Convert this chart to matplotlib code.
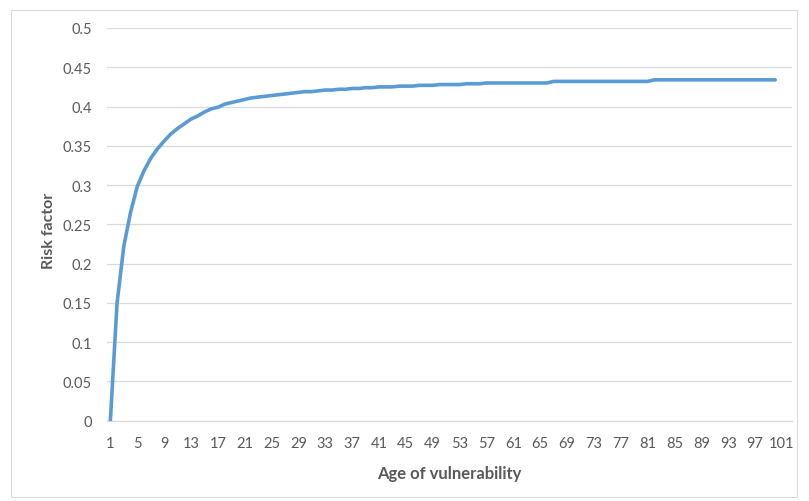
import matplotlib
matplotlib.use("Agg")
import matplotlib.pyplot as plt
from matplotlib.patches import Rectangle

# ---- data ----
ages = list(range(1, 101))
risk = [
    0.000, 0.150, 0.222, 0.265, 0.298, 0.318, 0.334, 0.346, 0.356, 0.365,
    0.372, 0.378, 0.384, 0.388, 0.393, 0.397, 0.399, 0.403, 0.405, 0.407,
    0.409, 0.411, 0.412, 0.413, 0.414, 0.415, 0.416, 0.417, 0.418, 0.419,
    0.419, 0.420, 0.421, 0.421, 0.422, 0.422, 0.423, 0.423, 0.424, 0.424,
    0.425, 0.425, 0.425, 0.426, 0.426, 0.426, 0.427, 0.427, 0.427, 0.428,
    0.428, 0.428, 0.428, 0.429, 0.429, 0.429, 0.430, 0.430, 0.430, 0.430,
    0.430, 0.430, 0.430, 0.430, 0.430, 0.430, 0.432, 0.432, 0.432, 0.432,
    0.432, 0.432, 0.432, 0.432, 0.432, 0.432, 0.432, 0.432, 0.432, 0.432,
    0.432, 0.434, 0.434, 0.434, 0.434, 0.434, 0.434, 0.434, 0.434, 0.434,
    0.434, 0.434, 0.434, 0.434, 0.434, 0.434, 0.434, 0.434, 0.434, 0.434,
]
x_ticks = list(range(1, 102, 4))
y_ticks = [0, 0.05, 0.1, 0.15, 0.2, 0.25, 0.3, 0.35, 0.4, 0.45, 0.5]
y_labels = ["0", "0.05", "0.1", "0.15", "0.2", "0.25", "0.3", "0.35", "0.4", "0.45", "0.5"]
x_title = "Age of vulnerability"
y_title = "Risk factor"

plt.rcParams['font.family'] = ['Lato', 'DejaVu Sans']

W, H = 809, 502
fig = plt.figure(figsize=(W / 100, H / 100), dpi=100)
fig.patch.set_facecolor("white")

# chart-area border
fig.patches.append(Rectangle((10.5 / W, 1 - 497.5 / H), 786.5 / W, 487 / H,
                             transform=fig.transFigure, fill=False,
                             edgecolor="#d9d9d9", linewidth=0.75))

left, right = 107 / W, 792 / W
top, bottom = 29 / H, 421.7 / H
ax = fig.add_axes([left, 1 - bottom, right - left, bottom - top])

ax.plot(ages, risk, color="#5B9BD5", linewidth=2.6, solid_capstyle="round",
        solid_joinstyle="round", zorder=3)

ax.set_xlim(0.5, 102.5)
ax.set_ylim(0, 0.5)
ax.set_yticks(y_ticks)
ax.set_yticklabels(y_labels)
ax.set_xticks(x_ticks)
ax.set_xticklabels([str(t) for t in x_ticks])

ax.grid(axis="y", color="#d9d9d9", linewidth=0.9, zorder=0)
ax.set_axisbelow(True)
for s in ["top", "right", "left"]:
    ax.spines[s].set_visible(False)
ax.spines["bottom"].set_color("#d9d9d9")
ax.spines["bottom"].set_linewidth(0.9)

ax.tick_params(axis="both", length=0, colors="#595959", labelsize=10.5)
ax.tick_params(axis="y", pad=11)
ax.tick_params(axis="x", pad=11)

ax.set_xlabel(x_title, fontsize=12, fontweight="bold", color="#595959", labelpad=11)
ax.set_ylabel(y_title, fontsize=11.5, fontweight="bold", color="#595959")
ax.yaxis.set_label_coords(-0.074, 0.485)

fig.savefig("out.png", dpi=100)
